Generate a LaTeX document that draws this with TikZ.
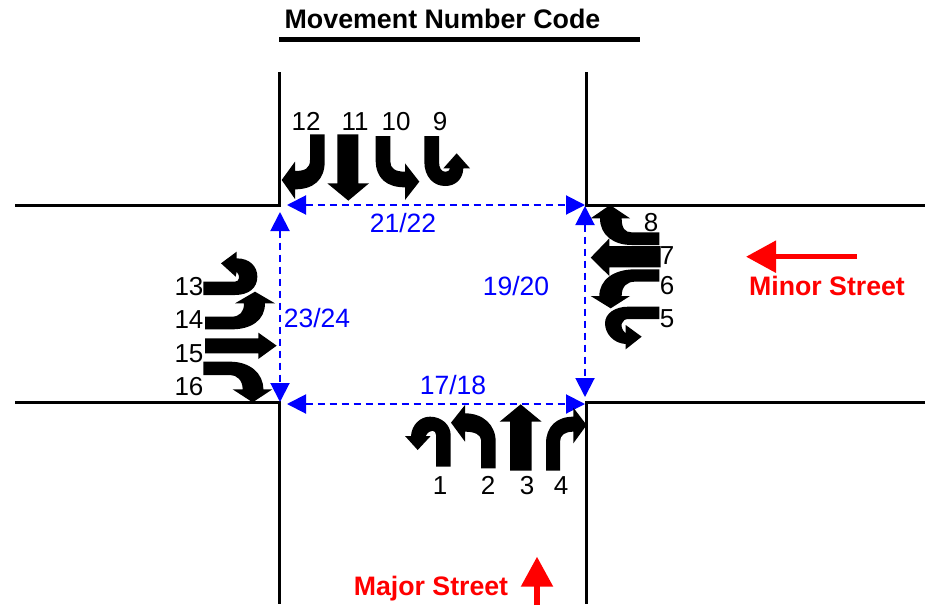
\documentclass[tikz,border=0pt]{standalone}
\usepackage{fontspec}
\setmainfont{Liberation Sans}
\usetikzlibrary{arrows.meta}
\definecolor{pureblue}{RGB}{0,0,255}
\definecolor{purered}{RGB}{255,0,0}
\tikzset{
  road/.style={line width=3pt,black},
  cross/.style={line width=2pt,pureblue,dash pattern=on 7pt off 5pt,{Triangle[length=19pt,width=19pt]}-{Triangle[length=19pt,width=19pt]}},
  streetarrow/.style={line width=5.5pt,purered,-{Triangle[length=30pt,width=31pt]}},
  num/.style={font=\fontsize{26}{26}\selectfont,inner sep=0pt,anchor=base},
  crosslabel/.style={font=\fontsize{26.5}{26.5}\selectfont,text=pureblue,inner sep=0pt,anchor=base},
  street/.style={font=\fontsize{26.7}{26.7}\selectfont\bfseries,text=purered,inner sep=0pt,anchor=base},
  move/.style={fill=black,draw=none},
  north/.style={shift={(270,100)},scale=0.33333},
  east/.style={shift={(560,190)},scale=0.33333},
  west/.style={shift={(170,240)},scale=0.33333},
  south/.style={shift={(395,385)},scale=0.33333}
}
\begin{document}
\begin{tikzpicture}[x=1pt,y=-1pt]
\useasboundingbox (0,0) rectangle (925,605);
\fill[white] (0,0) rectangle (925,605);
% roads
\draw[road] (15,205) -- (279,205) -- (279,72);
\draw[road] (925,205) -- (586,205) -- (586,72);
\draw[road] (15,402) -- (279,402) -- (279,604);
\draw[road] (925,402) -- (586,402) -- (586,604);
% title
\node[font=\fontsize{26.8}{26.8}\selectfont\bfseries,inner sep=0pt] (title) at (442.5,19) {Movement Number Code};
\coordinate (ulA) at (279,39);
\coordinate (ulB) at (640,39);
\draw[line width=5pt] (ulA) -- (ulB);
% crosswalk ends
\coordinate (nw) at (287,205);
\coordinate (ne) at (585,205);
\coordinate (sw) at (287,404);
\coordinate (se) at (585,404);
\coordinate (wt) at (280,212);
\coordinate (wb) at (280,402);
\coordinate (et) at (585,206);
\coordinate (eb) at (585,397);
\draw[cross] (nw) -- (ne);
\draw[cross] (sw) -- (se);
\draw[cross] (wt) -- (wb);
\draw[cross] (et) -- (eb);
\node[crosslabel] (c2122) at (403,232) {21/22};
\node[crosslabel] (c1920) at (516,295) {19/20};
\node[crosslabel] (c2324) at (317,327) {23/24};
\node[crosslabel] (c1718) at (453,394) {17/18};
% north approach
\begin{scope}[north]
\fill[move] (120,103) -- (164,103) -- (164,185) .. controls (164,240) and (130,268) .. (75,268) -- (75,297) -- (35,240) -- (75,185) -- (75,213) .. controls (105,213) and (120,205) .. (120,180) -- cycle;
\fill[move] (202,103) -- (265,103) -- (265,250) -- (297,250) -- (235,302) -- (172,250) -- (202,250) -- cycle;
\fill[move] (317,108) -- (361,108) -- (361,185) .. controls (361,205) and (375,215) .. (405,215) -- (405,190) -- (448,245) -- (405,300) -- (405,262) .. controls (350,262) and (317,235) .. (317,180) -- cycle;
\fill[move] (463,108) -- (507,108) -- (507,185) .. controls (507,205) and (515,215) .. (525,215) .. controls (535,215) and (540,210) .. (540,205) -- (520,205) -- (560,160) -- (600,205) -- (580,205) .. controls (578,240) and (555,258) .. (525,258) .. controls (490,258) and (463,230) .. (463,185) -- cycle;
\end{scope}
% east approach
\begin{scope}[east]
\fill[move] (298,127) -- (298,165) -- (215,165) .. controls (160,165) and (120,135) .. (120,85) -- (92,85) -- (150,45) -- (210,85) -- (185,85) .. controls (185,115) and (195,127) .. (215,127) -- cycle;
\fill[move] (302,168) -- (302,232) -- (148,232) -- (148,258) -- (92,203) -- (148,145) -- (148,168) -- cycle;
\fill[move] (298,238) -- (298,275) -- (225,275) .. controls (200,275) and (185,290) .. (185,318) -- (210,318) -- (152,355) -- (92,318) -- (118,318) .. controls (118,270) and (160,238) .. (225,238) -- cycle;
\fill[move] (298,350) -- (298,387) -- (205,387) .. controls (185,387) and (175,410) .. (197,430) -- (197,405) -- (245,440) -- (197,478) -- (197,462) .. controls (160,460) and (135,430) .. (135,400) .. controls (135,370) and (165,350) .. (205,350) -- cycle;
\end{scope}
% west approach
\begin{scope}[west]
\fill[move] (100,125) -- (195,125) .. controls (208,125) and (212,108) .. (200,95) -- (197,110) -- (153,70) -- (200,35) -- (200,55) .. controls (240,55) and (262,80) .. (262,110) .. controls (262,145) and (235,165) .. (195,165) -- (100,165) -- cycle;
\fill[move] (105,230) -- (185,230) .. controls (210,230) and (222,215) .. (222,190) -- (195,190) -- (255,155) -- (315,190) -- (285,190) .. controls (285,240) and (245,268) .. (185,268) -- (105,268) -- cycle;
\fill[move] (105,295) -- (265,295) -- (265,278) -- (320,317) -- (265,357) -- (265,340) -- (105,340) -- cycle;
\fill[move] (100,365) -- (180,365) .. controls (240,365) and (280,400) .. (280,448) -- (307,448) -- (248,487) -- (188,448) -- (218,448) .. controls (218,420) and (200,405) .. (180,405) -- (100,405) -- cycle;
\end{scope}
% south approach
\begin{scope}[south]
\fill[move] (167,245) -- (123,245) -- (123,150) .. controls (123,135) and (105,130) .. (92,153) -- (107,153) -- (68,195) -- (30,153) -- (48,153) .. controls (50,120) and (75,95) .. (105,95) .. controls (140,95) and (167,120) .. (167,150) -- cycle;
\fill[move] (302,250) -- (258,250) -- (258,165) .. controls (258,150) and (240,140) .. (210,140) -- (210,170) -- (168,113) -- (210,60) -- (210,85) .. controls (265,85) and (302,120) .. (302,170) -- cycle;
\fill[move] (345,257) -- (410,257) -- (410,110) -- (440,110) -- (377,58) -- (314,110) -- (345,110) -- cycle;
\fill[move] (453,257) -- (495,257) -- (495,170) .. controls (495,150) and (510,140) .. (535,140) -- (535,175) -- (575,120) -- (535,68) -- (535,95) .. controls (485,95) and (453,125) .. (453,175) -- cycle;
\end{scope}
% movement numbers
\node[num] (n12) at (306,130.7) {12};
\node[num] (n11) at (355,130.7) {11};
\node[num] (n10) at (396,130.7) {10};
\node[num] (n9) at (440,130.7) {9};
\node[num] (n8) at (651,231) {8};
\node[num] (n7) at (667,264) {7};
\node[num] (n6) at (667,294.5) {6};
\node[num] (n5) at (667,327.5) {5};
\node[num] (n13) at (189,295) {13};
\node[num] (n14) at (189,328) {14};
\node[num] (n15) at (189,362) {15};
\node[num] (n16) at (189,395) {16};
\node[num] (n1) at (440,494.5) {1};
\node[num] (n2) at (488,494.5) {2};
\node[num] (n3) at (527,494.5) {3};
\node[num] (n4) at (561,494.5) {4};
% street labels
\coordinate (minorA) at (857,256.7);
\coordinate (minorB) at (746,256.7);
\draw[streetarrow] (minorA) -- (minorB);
\node[street] (minor) at (827,295) {Minor Street};
\coordinate (majorA) at (537,605);
\coordinate (majorB) at (537,556.7);
\draw[streetarrow] (majorA) -- (majorB);
\node[street] (major) at (431,595) {Major Street};
\end{tikzpicture}
\end{document}
